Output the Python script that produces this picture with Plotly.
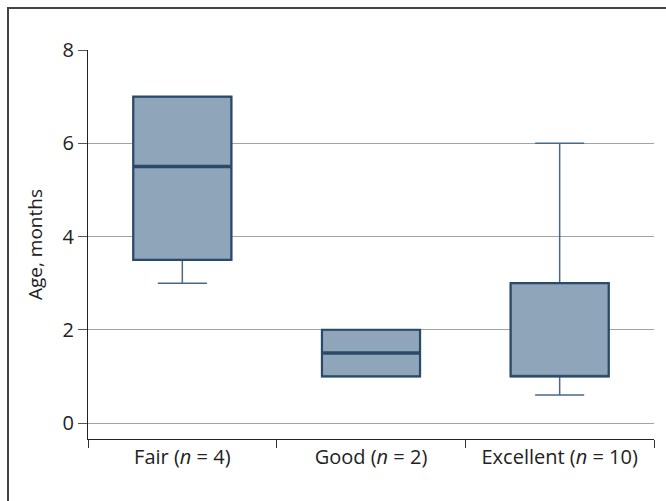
import plotly.graph_objects as go

# Category labels and box statistics (age in months)
categories = ["Fair (<i>n</i> = 4)", "Good (<i>n</i> = 2)", "Excellent (<i>n</i> = 10)"]
lower_fence = [3.0, 1.0, 0.6]
q1 = [3.5, 1.0, 1.0]
median = [5.5, 1.5, 1.0]
q3 = [7.0, 2.0, 3.0]
upper_fence = [7.0, 2.0, 6.0]
y_ticks = [0, 2, 4, 6, 8]

BOX_FILL = "#8ea5ba"
BOX_LINE = "#2b4a68"
WHISKER_LINE = "#4a6885"
BOX_WIDTH = 0.52

W, H = 666, 501
ML, MR, MT, MB = 88, 12, 50, 62

fig = go.Figure()
fig.add_trace(go.Box(
    x=categories,
    q1=q1, median=median, q3=q3,
    lowerfence=lower_fence, upperfence=upper_fence,
    fillcolor=BOX_FILL,
    line=dict(color=WHISKER_LINE, width=1.5),
    width=BOX_WIDTH,
    whiskerwidth=0.5,
    boxpoints=False,
    hoverinfo="skip",
    showlegend=False,
))

# Darker, heavier outline for each interquartile box
for i in range(len(categories)):
    fig.add_shape(type="rect", xref="x", yref="y",
                  x0=i - BOX_WIDTH / 2, x1=i + BOX_WIDTH / 2, y0=q1[i], y1=q3[i],
                  line=dict(color=BOX_LINE, width=2.2), fillcolor="rgba(0,0,0,0)")

# Heavier median bar wherever the median sits inside the box
for i, m in enumerate(median):
    if q1[i] < m < q3[i]:
        fig.add_shape(type="line", xref="x", yref="y",
                      x0=i - BOX_WIDTH / 2, x1=i + BOX_WIDTH / 2, y0=m, y1=m,
                      line=dict(color=BOX_LINE, width=3.5))

# Outer frame around the figure
pw, ph = W - ML - MR, H - MT - MB
fig.add_shape(type="rect", xref="paper", yref="paper",
              x0=(8 - ML) / pw, x1=(W + 10 - ML) / pw,
              y0=-(H + 10 - MT - ph) / ph, y1=1 + (MT - 8) / ph,
              line=dict(color="#444444", width=2), fillcolor="rgba(0,0,0,0)",
              layer="below")

fig.update_layout(
    width=W, height=H,
    margin=dict(l=ML, r=MR, t=MT, b=MB),
    paper_bgcolor="white", plot_bgcolor="white",
    font=dict(family="Open Sans, DejaVu Sans, sans-serif", size=19, color="#222222"),
    xaxis=dict(
        type="category",
        range=[-0.5, 2.5],
        tickson="boundaries",
        ticks="outside", ticklen=8, tickcolor="#333333", tickwidth=1,
        showline=True, linecolor="#222222", linewidth=1,
        showgrid=False, zeroline=False,
        tickfont=dict(size=20),
    ),
    yaxis=dict(
        range=[-0.343, 8],
        tickvals=y_ticks,
        ticks="outside", ticklen=9, tickcolor="#555555", tickwidth=1,
        showline=True, linecolor="#222222", linewidth=1,
        showgrid=True, gridcolor="#a3a3a3", gridwidth=1,
        zeroline=False,
        title=dict(text="Age, months", font=dict(size=19), standoff=14),
        tickfont=dict(size=20),
    ),
)

fig.write_html("out.html")
